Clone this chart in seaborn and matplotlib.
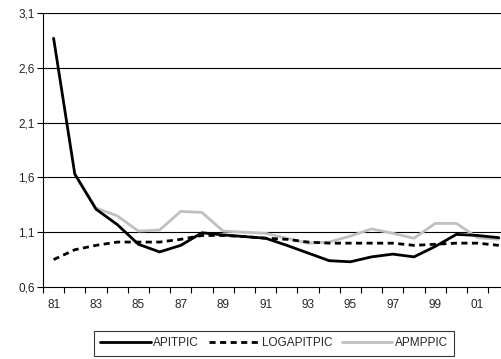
import matplotlib
matplotlib.use("Agg")
import matplotlib.pyplot as plt
import seaborn as sns
import pandas as pd
import numpy as np
from matplotlib.ticker import FixedLocator

years = ["81","82","83","84","85","86","87","88","89","90","91",
         "92","93","94","95","96","97","98","99","00","01","02"]
apitpic = [2.87,1.63,1.31,1.17,0.99,0.92,0.98,1.095,1.075,1.06,1.045,
           0.98,0.91,0.84,0.83,0.875,0.90,0.875,0.97,1.08,1.07,1.05]
logapitpic = [0.85,0.94,0.98,1.01,1.01,1.01,1.035,1.07,1.07,1.06,1.045,
              1.035,1.01,1.0,1.0,1.0,1.0,0.98,0.99,1.0,1.0,0.98]
apmppic = [np.nan,1.63,1.32,1.25,1.11,1.12,1.29,1.28,1.11,1.10,1.09,
           1.045,1.0,1.01,1.065,1.13,1.09,1.045,1.18,1.18,1.05,1.035]
xlabels = ["81","83","85","87","89","91","93","95","97","99","01"]
yticks = [0.6,1.1,1.6,2.1,2.6,3.1]

sns.set_style("white")
plt.rcParams['font.family'] = ['Liberation Sans', 'DejaVu Sans']

fig = plt.figure(figsize=(5.01,3.59), dpi=100)
ax = fig.add_axes([43/501, 72/359, (501-43)/501, 274/359])

idx = np.arange(len(years))
df = pd.DataFrame({"x": idx, "APITPIC": apitpic, "LOGAPITPIC": logapitpic, "APMPPIC": apmppic})

for yv in yticks[1:]:
    ax.axhline(yv, color="black", lw=0.8, zorder=0)

sns.lineplot(data=df, x="x", y="APMPPIC", ax=ax, color="#c0c0c0", lw=2.0, label="APMPPIC", zorder=3)
sns.lineplot(data=df, x="x", y="LOGAPITPIC", ax=ax, color="black", lw=2.0,
             linestyle=(0,(2.2,1.6)), label="LOGAPITPIC", zorder=4)
sns.lineplot(data=df, x="x", y="APITPIC", ax=ax, color="black", lw=2.0, label="APITPIC", zorder=5)

ax.set_xlim(-0.5, (501-53.6)/21.2)
ax.set_ylim(0.6, 3.1)
ax.set_xlabel("")
ax.set_ylabel("")
ax.set_yticks(yticks)
ax.set_yticklabels([f"{v:.1f}".replace(".", ",") for v in yticks], fontsize=8.5)
ax.set_xticks(idx[::2])
ax.set_xticklabels(xlabels, fontsize=8.5)
ax.xaxis.set_minor_locator(FixedLocator(np.arange(-0.5, 22, 1)))
ax.tick_params(axis="x", which="major", length=0, pad=9)
ax.tick_params(axis="x", which="minor", length=4, width=0.8, color="black", direction="out", bottom=True)
ax.tick_params(axis="y", which="major", length=4, width=0.8, color="black", direction="out", left=True, pad=2)
for s in ["top","right"]:
    ax.spines[s].set_visible(False)
for s in ["left","bottom"]:
    ax.spines[s].set_color("black")
    ax.spines[s].set_linewidth(0.8)

ax.get_legend().remove()
h, l = ax.get_legend_handles_labels()
order = [l.index("APITPIC"), l.index("LOGAPITPIC"), l.index("APMPPIC")]
leg = fig.legend([h[i] for i in order], [l[i] for i in order], ncol=3,
                 loc="center", bbox_to_anchor=(274/501, 1-343.5/359),
                 frameon=True, fancybox=False, fontsize=8.5, handlelength=4.3,
                 handletextpad=0.2, columnspacing=0.8, borderpad=0.55)
leg.get_frame().set_edgecolor("black")
leg.get_frame().set_linewidth(0.8)

fig.savefig("out.png", dpi=100)
